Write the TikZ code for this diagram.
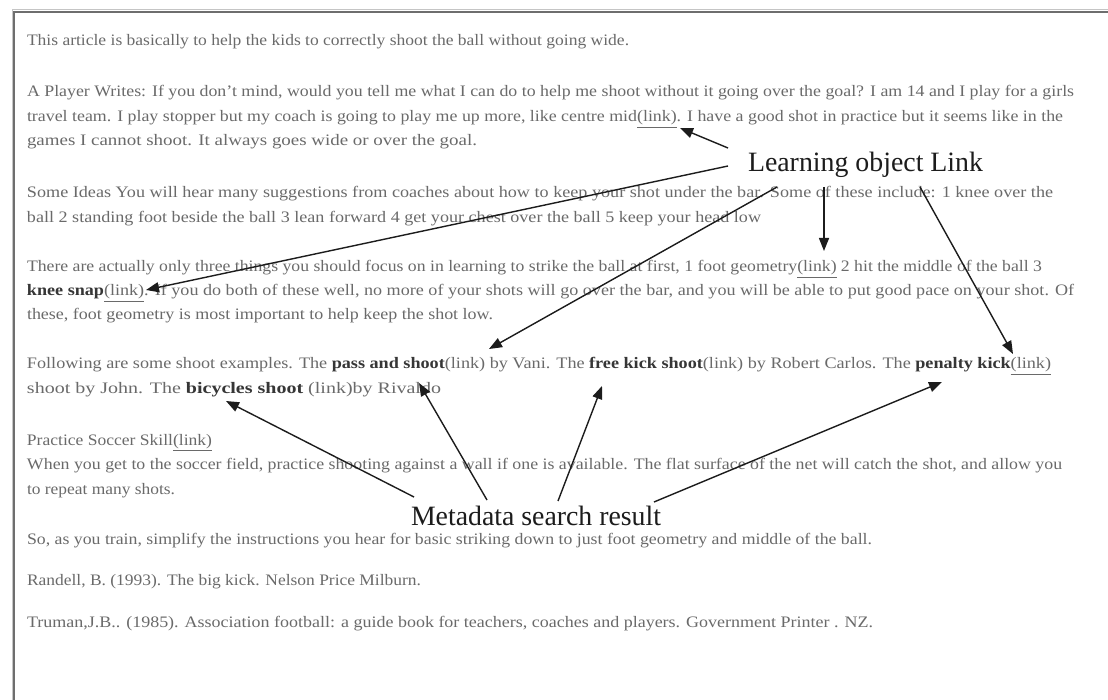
\documentclass[tikz,border=0pt]{standalone}
\usepackage{fontspec}
\setmainfont{Liberation Serif}
\usepackage{graphicx}
\usetikzlibrary{arrows.meta}

\definecolor{bodytext}{HTML}{6A6A6A}
\definecolor{boldtext}{HTML}{363636}
\definecolor{ink}{HTML}{1C1C1C}
\definecolor{framec}{HTML}{6E6E6E}

% one printed line, stretched to its measured width
\newcommand{\fitline}[2]{\resizebox{#1}{\height}{#2}}
\newcommand{\ulink}{\underline{(link)}}
\newcommand{\bt}[1]{\textbf{\color{boldtext}#1}}

\tikzset{
  body/.style={anchor=base west, inner sep=0pt, outer sep=0pt, text=bodytext,
    font=\fontsize{16}{19}\selectfont},
  lbl/.style={anchor=base west, inner sep=0pt, outer sep=0pt, text=ink,
    font=\fontsize{28}{32}\selectfont},
  pointer/.style={draw=ink, line width=1.4pt, -{Triangle[length=13pt,width=10pt]}},
  pageframe/.style={draw=framec, line width=2.4pt},
}

\begin{document}
\begin{tikzpicture}[x=1pt,y=-1pt]
\fill[white] (0,0) rectangle (1108,700);
\useasboundingbox (0,0) rectangle (1108,700);

% page frame (top and left edges)
\draw[pageframe] (14,700) -- (14,12) -- (1108,12);
\draw[framec!40, line width=0.8pt] (12,700) -- (12,9.5) -- (1108,9.5);

% article text
\node[body] (t1) at (27,46) {\fitline{602pt}{This article is basically to help the kids to correctly shoot the ball without going wide.}};

\node[body] (t2) at (27,97) {\fitline{1047pt}{A Player Writes: If you don't mind, would you tell me what I can do to help me shoot without it going over the goal? I am 14 and I play for a girls}};
\node[body] (t3) at (27,122) {\fitline{1036pt}{travel team. I play stopper but my coach is going to play me up more, like centre mid\ulink. I have a good shot in practice but it seems like in the}};
\node[body] (t4) at (27,146) {\fitline{450pt}{games I cannot shoot. It always goes wide or over the goal.}};

\node[body] (t5) at (27,198) {\fitline{1026pt}{Some Ideas You will hear many suggestions from coaches about how to keep your shot under the bar. Some of these include: 1 knee over the}};
\node[body] (t6) at (27,223) {\fitline{734pt}{ball 2 standing foot beside the ball 3 lean forward 4 get your chest over the ball 5 keep your head low}};

\node[body] (t7) at (27,272) {\fitline{1015pt}{There are actually only three things you should focus on in learning to strike the ball at first, 1 foot geometry\ulink{} 2 hit the middle of the ball 3}};
\node[body] (t8) at (27,296) {\fitline{1047pt}{\bt{knee snap}\ulink. If you do both of these well, no more of your shots will go over the bar, and you will be able to put good pace on your shot. Of}};
\node[body] (t9) at (27,320) {\fitline{466pt}{these, foot geometry is most important to help keep the shot low.}};

\node[body] (t10) at (27,369) {\fitline{1024pt}{Following are some shoot examples. The \bt{pass and shoot}(link) by Vani. The \bt{free kick shoot}(link) by Robert Carlos. The \bt{penalty kick}\ulink}};
\node[body] (t11) at (27,393) {\fitline{414pt}{shoot by John. The \bt{bicycles shoot} (link)by Rivaldo}};

\node[body] (t12) at (27,445) {\fitline{185pt}{Practice Soccer Skill\ulink}};
\node[body] (t13) at (27,469) {\fitline{1035pt}{When you get to the soccer field, practice shooting against a wall if one is available. The flat surface of the net will catch the shot, and allow you}};
\node[body] (t14) at (27,494) {\fitline{148pt}{to repeat many shots.}};

\node[body] (t15) at (27,544) {\fitline{845pt}{So, as you train, simplify the instructions you hear for basic striking down to just foot geometry and middle of the ball.}};
\node[body] (t16) at (27,585) {\fitline{394pt}{Randell, B. (1993). The big kick. Nelson Price Milburn.}};
\node[body] (t17) at (27,627) {\fitline{846pt}{Truman,J.B.. (1985). Association football: a guide book for teachers, coaches and players. Government Printer . NZ.}};

% annotation labels
\node[lbl] (learn) at (748,172) {\fitline{235pt}{Learning object Link}};
\node[lbl] (meta) at (411,525) {\fitline{250pt}{Metadata search result}};

% pointer ends
\coordinate (lA) at (728,148);  \coordinate (pA) at (680,128);
\coordinate (lB) at (728,166);  \coordinate (pB) at (146,290);
\coordinate (lC) at (777,187);  \coordinate (pC) at (489,349);
\coordinate (lD) at (824,187);  \coordinate (pD) at (824,251);
\coordinate (lE) at (920,187);  \coordinate (pE) at (1013,354);
\coordinate (mF) at (414,497);  \coordinate (pF) at (226,401);
\coordinate (mG) at (487,500);  \coordinate (pG) at (419,383);
\coordinate (mH) at (558,501);  \coordinate (pH) at (602,386);
\coordinate (mI) at (654,502);  \coordinate (pI) at (942,382);

% learning object links
\draw[pointer] (lA) -- (pA);
\draw[pointer] (lB) -- (pB);
\draw[pointer] (lC) -- (pC);
\draw[pointer] (lD) -- (pD);
\draw[pointer] (lE) -- (pE);

% metadata search results
\draw[pointer] (mF) -- (pF);
\draw[pointer] (mG) -- (pG);
\draw[pointer] (mH) -- (pH);
\draw[pointer] (mI) -- (pI);
\end{tikzpicture}
\end{document}
